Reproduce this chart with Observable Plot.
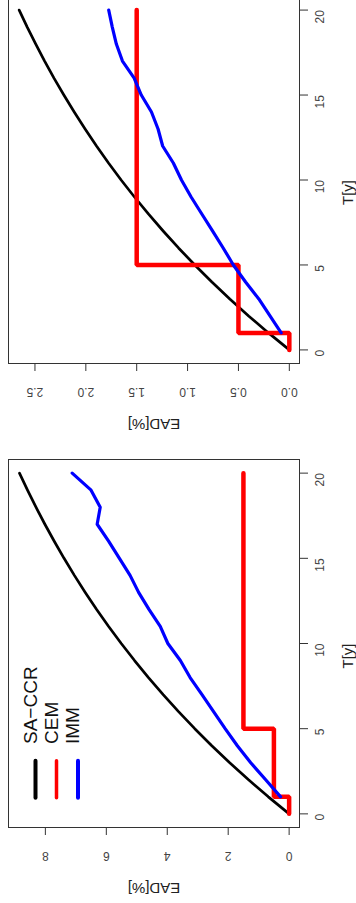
<!DOCTYPE html>
<html>
<head>
<meta charset="utf-8">
<script src="https://cdn.jsdelivr.net/npm/d3@7"></script>
<script src="https://cdn.jsdelivr.net/npm/@observablehq/plot@0.6"></script>
<style>
  html, body { margin: 0; padding: 0; background: white; }
  #chart svg { display: block; }
</style>
</head>
<body>
<div id="chart"></div>
<script>
// ---- data ----
const years = [0,1,2,3,4,5,6,7,8,9,10,11,12,13,14,15,16,17,18,19,20];
const immYears = [1,2,3,4,5,6,7,8,9,10,11,12,13,14,15,16,17,18,19,20];
const cemYears = [0,1,5,20];

// top panel
const saccrTop = [0,0.205,0.40,0.585,0.761,0.929,1.089,1.240,1.385,1.522,1.653,1.777,1.895,2.007,2.114,2.216,2.313,2.405,2.492,2.576,2.655];
const cemTop = [0,0.5,1.5,1.5];
const immTop = [0.08,0.19,0.30,0.43,0.55,0.65,0.755,0.86,0.965,1.06,1.14,1.245,1.29,1.355,1.455,1.525,1.64,1.70,1.74,1.775];

// bottom panel
const saccrBottom = [0,0.683,1.332,1.950,2.538,3.097,3.629,4.134,4.616,5.073,5.509,5.923,6.317,6.691,7.048,7.387,7.709,8.016,8.308,8.586,8.850];
const cemBottom = [0,0.5,1.5,1.5];
const immBottom = [0.28,0.77,1.26,1.70,2.10,2.48,2.86,3.25,3.57,3.98,4.23,4.60,4.94,5.22,5.57,5.92,6.30,6.20,6.50,7.12];

// axes
const tTicks = [0,5,10,15,20];
const eadTicksTop = [0,0.5,1,1.5,2,2.5];
const eadTicksBottom = [0,2,4,6,8];
const xLabel = "T[y]";
const yLabel = "EAD[%]";

// legend
const seriesNames = ["SA\u2212CCR","CEM","IMM"];
const seriesColors = ["black","red","blue"];

// ---- drawing ----
const vline = {
  draw(context) {
    context.moveTo(0, -18.5);
    context.lineTo(0, 18.5);
  }
};

function panel({height, marginTop, marginBottom, eadDomain, eadTicks, fmt, saccr, cem, imm, legend}) {
  const sa = years.map((t, i) => ({t, v: saccr[i]}));
  const ce = cemYears.map((t, i) => ({t, v: cem[i]}));
  const im = immYears.map((t, i) => ({t, v: imm[i]}));
  const marks = [
    Plot.frame({stroke: "#333", strokeWidth: 1}),
    Plot.axisX({ticks: eadTicks, tickSize: 8, tickFormat: () => "", label: null, stroke: "#333"}),
    Plot.axisY({anchor: "right", ticks: tTicks, tickSize: 8, tickFormat: () => "", label: null, stroke: "#333"}),
    Plot.text(eadTicks, {x: d => d, frameAnchor: "bottom", dy: 24, rotate: 180, text: fmt, fill: "#444", fontSize: 12}),
    Plot.text(tTicks, {y: d => d, frameAnchor: "right", dx: 21, rotate: -90, text: d => String(d), fill: "#444", fontSize: 12}),
    Plot.text([xLabel], {frameAnchor: "right", dx: 49, rotate: -90, text: d => d, fill: "#222", fontSize: 15}),
    Plot.text([yLabel], {frameAnchor: "bottom", dy: 55, rotate: 180, text: d => d, fill: "#222", fontSize: 15}),
    Plot.line(sa, {x: "v", y: "t", stroke: seriesColors[0], strokeWidth: 2.7, curve: "linear"}),
    Plot.line(ce, {x: "v", y: "t", stroke: seriesColors[1], strokeWidth: 4.5, curve: "step-before", strokeLinejoin: "miter"}),
    Plot.line(im, {x: "v", y: "t", stroke: seriesColors[2], strokeWidth: 3.2})
  ];
  if (legend) {
    seriesNames.forEach((name, i) => {
      const dxs = [27, 48, 69.5];
      const sws = [4, 3.5, 4];
      marks.push(Plot.dot([name], {frameAnchor: "bottom-left", dx: dxs[i], dy: -48.3, symbol: vline, fill: "none", stroke: seriesColors[i], strokeWidth: sws[i], strokeLinecap: "round"}));
      marks.push(Plot.text([name], {frameAnchor: "bottom-left", dx: dxs[i] + 1, dy: -83.5, rotate: -90, textAnchor: "start", text: d => d, fill: "#111", fontSize: 19}));
    });
  }
  return Plot.plot({
    width: 356,
    height,
    marginLeft: 8,
    marginRight: 57,
    marginTop,
    marginBottom,
    style: {fontFamily: "'Liberation Sans', Arial, sans-serif", background: "white", overflow: "visible"},
    x: {domain: eadDomain, label: null},
    y: {domain: [-0.8, 20.8], label: null},
    marks
  });
}

const topPanel = panel({
  height: 450, marginTop: -4, marginBottom: 87,
  eadDomain: [2.76, -0.1], eadTicks: eadTicksTop, fmt: d => d.toFixed(1),
  saccr: saccrTop, cem: cemTop, imm: immTop, legend: false
});
const bottomPanel = panel({
  height: 453, marginTop: 9, marginBottom: 76,
  eadDomain: [9.21, -0.34], eadTicks: eadTicksBottom, fmt: d => String(d),
  saccr: saccrBottom, cem: cemBottom, imm: immBottom, legend: true
});
document.getElementById("chart").append(topPanel, bottomPanel);
</script>
</body>
</html>
